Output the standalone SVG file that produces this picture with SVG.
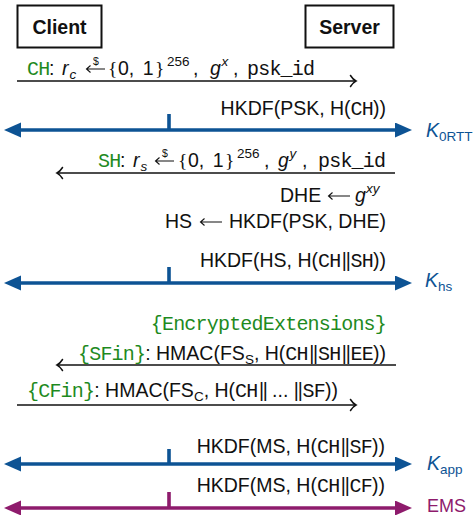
<svg xmlns="http://www.w3.org/2000/svg" width="476" height="515" viewBox="0 0 476 515">
  <style>
    .sf { font-family: "Liberation Sans", Arial, sans-serif; font-size: 19.5px; fill: #111; }
    .bold { font-weight: bold; }
    .it { font-style: italic; }
    .tt { font-family: "Liberation Mono", "Courier New", monospace; font-size: 20px; letter-spacing: -0.8px; }
    .rm { font-family: "Liberation Serif", "Times New Roman", serif; }
    .bar { letter-spacing: -1.2px; }
    .gr { fill: #1e8a1e; }
    .sm { font-size: 13.5px; }
    .dol { font-size: 10.5px; }
    .blue { fill: #0d5394; }
    .purple { fill: #8e1b6c; }
    .box { fill: #fff; stroke: #111; stroke-width: 2; }
    .msg { fill: none; stroke: #111; stroke-width: 1.6; }
    .samp { fill: none; stroke: #111; stroke-width: 1.1; }
    .kb { fill: none; stroke: #0d5394; stroke-width: 3.6; }
    .kp { fill: none; stroke: #8e1b6c; stroke-width: 3.6; }
  </style>
  <defs>
    <marker id="open" markerUnits="userSpaceOnUse" markerWidth="12" markerHeight="14" refX="7" refY="7" orient="auto-start-reverse" viewBox="0 0 12 14">
      <path d="M1.5,1.5 Q4,5.5 7,7 Q4,8.5 1.5,12.5" fill="none" stroke="#111" stroke-width="1.5" stroke-linecap="round"/>
    </marker>
    <marker id="headB" markerUnits="userSpaceOnUse" markerWidth="18" markerHeight="16" refX="1" refY="7.5" orient="auto-start-reverse" viewBox="0 0 18 16">
      <path d="M0,0 L17,7.5 L0,15 Z" fill="#0d5394"/>
    </marker>
    <marker id="headP" markerUnits="userSpaceOnUse" markerWidth="18" markerHeight="16" refX="1" refY="7.5" orient="auto-start-reverse" viewBox="0 0 18 16">
      <path d="M0,0 L17,7.5 L0,15 Z" fill="#8e1b6c"/>
    </marker>
  </defs>

  <!-- parties -->
  <g id="client">
    <rect class="box" x="17.5" y="5.5" width="84" height="42"/>
    <text class="sf bold" x="59.5" y="34" text-anchor="middle">Client</text>
  </g>
  <g id="server">
    <rect class="box" x="305.5" y="5.5" width="88" height="42"/>
    <text class="sf bold" x="349.5" y="34" text-anchor="middle">Server</text>
  </g>

  <!-- message arrows and key-derivation lines -->
  <g id="connectors">
    <line class="msg" x1="17" y1="81" x2="356" y2="81" marker-end="url(#open)"/>
    <line class="kb" x1="20" y1="130" x2="396" y2="130" marker-start="url(#headB)" marker-end="url(#headB)"/>
    <line class="kb" x1="169" y1="114" x2="169" y2="130"/>
    <line class="msg" x1="395" y1="173" x2="57" y2="173" marker-end="url(#open)"/>
    <line class="kb" x1="20" y1="283" x2="396" y2="283" marker-start="url(#headB)" marker-end="url(#headB)"/>
    <line class="kb" x1="169" y1="267" x2="169" y2="283"/>
    <line class="msg" x1="396" y1="365" x2="57" y2="365" marker-end="url(#open)"/>
    <line class="msg" x1="17" y1="405" x2="356" y2="405" marker-end="url(#open)"/>
    <line class="kb" x1="20" y1="464" x2="396" y2="464" marker-start="url(#headB)" marker-end="url(#headB)"/>
    <line class="kb" x1="169" y1="449" x2="169" y2="464"/>
    <line class="kp" x1="20" y1="508" x2="396" y2="508" marker-start="url(#headP)" marker-end="url(#headP)"/>
    <line class="kp" x1="169" y1="492" x2="169" y2="508"/>
  </g>

  <!-- ClientHello -->
  <g id="msg-ch">
    <text class="sf tt gr" x="27" y="75">CH</text>
    <text class="sf" x="49" y="75">:</text>
    <text class="sf it" x="62" y="75">r</text>
    <text class="sf it sm" x="69.5" y="79">c</text>
    <path class="samp" d="M105,69 H86.5 M90.5,65.5 L86.5,69 L90.5,72.5"/>
    <text class="sf dol" x="96" y="65" text-anchor="middle">$</text>
    <text class="sf rm" x="108" y="75">{</text>
    <text class="sf" x="118" y="75" word-spacing="3">0, 1</text>
    <text class="sf rm" x="155" y="75">}</text>
    <text class="sf sm" x="167" y="66">256</text>
    <text class="sf" x="193" y="75">,</text>
    <text class="sf it" x="210" y="75">g</text>
    <text class="sf it sm" x="221.5" y="66">x</text>
    <text class="sf" x="233" y="75">,</text>
    <text class="sf tt" x="247" y="75">psk_id</text>
  </g>

  <g id="key-0rtt">
    <text class="sf" x="386" y="115" text-anchor="end">HKDF(PSK, H(<tspan class="tt">CH</tspan>))</text>
    <text class="sf it blue" x="426" y="137">K<tspan class="sm" font-style="normal" dy="4">0RTT</tspan></text>
  </g>

  <!-- ServerHello -->
  <g id="msg-sh">
    <text class="sf tt gr" x="98" y="167">SH</text>
    <text class="sf" x="120" y="167">:</text>
    <text class="sf it" x="133" y="167">r</text>
    <text class="sf it sm" x="140.5" y="171">s</text>
    <path class="samp" d="M174,161 H155.5 M159.5,157.5 L155.5,161 L159.5,164.5"/>
    <text class="sf dol" x="165" y="157" text-anchor="middle">$</text>
    <text class="sf rm" x="178" y="167">{</text>
    <text class="sf" x="188" y="167" word-spacing="3">0, 1</text>
    <text class="sf rm" x="225" y="167">}</text>
    <text class="sf sm" x="237" y="158">256</text>
    <text class="sf" x="264" y="167">,</text>
    <text class="sf it" x="278" y="167">g</text>
    <text class="sf it sm" x="289.5" y="158">y</text>
    <text class="sf" x="302" y="167">,</text>
    <text class="sf tt" x="318" y="167">psk_id</text>
  </g>

  <g id="dhe">
    <text class="sf" x="280" y="202">DHE</text>
    <path class="samp" d="M350,196 H328.5 M332.5,192.5 L328.5,196 L332.5,199.5"/>
    <text class="sf it" x="355" y="202">g</text>
    <text class="sf it sm" x="366" y="193">xy</text>
  </g>

  <g id="hs">
    <text class="sf" x="165" y="228">HS</text>
    <path class="samp" d="M222,222 H200.5 M204.5,218.5 L200.5,222 L204.5,225.5"/>
    <text class="sf" x="386" y="228" text-anchor="end">HKDF(PSK, DHE)</text>
  </g>

  <g id="key-hs">
    <text class="sf" x="386" y="267" text-anchor="end">HKDF(HS, H(<tspan class="tt">CH</tspan><tspan class="bar" dx="1.5">||</tspan><tspan class="tt" dx="1">SH</tspan>))</text>
    <text class="sf it blue" x="425" y="287">K<tspan class="sm" font-style="normal" dy="4">hs</tspan></text>
  </g>

  <!-- encrypted server flight -->
  <g id="msg-ee">
    <text class="sf tt gr" x="386" y="330" text-anchor="end">{EncryptedExtensions}</text>
  </g>
  <g id="msg-sfin">
    <text class="sf" x="386" y="360" text-anchor="end"><tspan class="tt gr">{SFin}</tspan>: HMAC(FS<tspan class="sm" dy="4">S</tspan><tspan dy="-4">, H(</tspan><tspan class="tt">CH</tspan><tspan class="bar" dx="1.5">||</tspan><tspan class="tt" dx="1">SH</tspan><tspan class="bar" dx="1.5">||</tspan><tspan class="tt" dx="1">EE</tspan>))</text>
  </g>

  <!-- client finished -->
  <g id="msg-cfin">
    <text class="sf" x="27" y="397"><tspan class="tt gr">{CFin}</tspan>: HMAC(FS<tspan class="sm" dy="4">C</tspan><tspan dy="-4">, H(</tspan><tspan class="tt">CH</tspan><tspan class="bar" dx="1.5">||</tspan> ... <tspan class="bar">||</tspan><tspan class="tt" dx="1">SF</tspan>))</text>
  </g>

  <g id="key-app">
    <text class="sf" x="385" y="453" text-anchor="end">HKDF(MS, H(<tspan class="tt">CH</tspan><tspan class="bar" dx="1.5">||</tspan><tspan class="tt" dx="1">SF</tspan>))</text>
    <text class="sf it blue" x="427" y="470">K<tspan class="sm" font-style="normal" dy="4">app</tspan></text>
  </g>

  <g id="key-ems">
    <text class="sf" x="385" y="492" text-anchor="end">HKDF(MS, H(<tspan class="tt">CH</tspan><tspan class="bar" dx="1.5">||</tspan><tspan class="tt" dx="1">CF</tspan>))</text>
    <text class="sf purple" x="427" y="512" style="font-size:18px">EMS</text>
  </g>
</svg>
